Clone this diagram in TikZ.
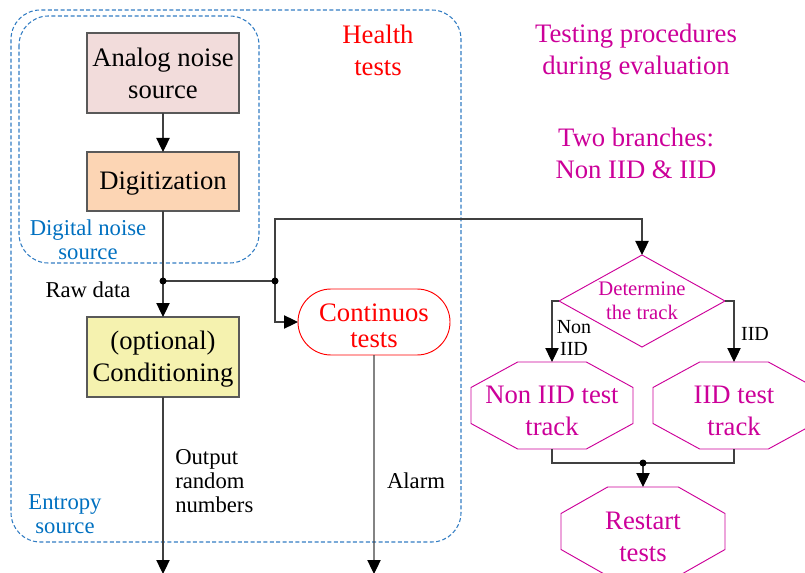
\documentclass[tikz,border=0pt]{standalone}
\usepackage{fontspec}
\setmainfont{Liberation Serif}
\usepackage{tikz}
\usetikzlibrary{arrows.meta}
\usetikzlibrary{shapes.geometric,shapes.misc,positioning,calc}
\definecolor{boxgray}{RGB}{89,89,89}
\definecolor{wiregray}{RGB}{64,64,64}
\definecolor{analogfill}{RGB}{242,220,219}
\definecolor{digitfill}{RGB}{252,213,180}
\definecolor{condfill}{RGB}{245,242,175}
\definecolor{srcblue}{RGB}{0,112,192}
\definecolor{dashblue}{RGB}{50,125,195}
\definecolor{evalmag}{RGB}{204,0,153}
% octagon outline round a (rectangular) node
\newcommand{\drawoct}[1]{%
	\draw[octline] ($(#1.north west)+(35pt,0)$) -- ($(#1.north east)+(-35pt,0)$)
		-- ($(#1.east)+(0,13.5pt)$) -- ($(#1.east)+(0,-13.5pt)$)
		-- ($(#1.south east)+(-35pt,0)$) -- ($(#1.south west)+(35pt,0)$)
		-- ($(#1.west)+(0,-13.5pt)$) -- ($(#1.west)+(0,13.5pt)$) -- cycle;}

\begin{document}
\begin{tikzpicture}[x=0.75pt, y=-0.75pt,
		>={Triangle[length=10.5pt,width=10pt,color=black]},
		wire/.style={draw=wiregray, line width=0.8pt},
		arr/.style={wire, ->},
		block/.style={draw=boxgray, line width=0.8pt, inner sep=0pt, outer sep=0pt, minimum width=114pt, align=center, font=\fontsize{20}{24}\selectfont},
		octbox/.style={text=evalmag, inner sep=0pt, outer sep=0pt, minimum width=121.5pt, minimum height=65.25pt, text height=45pt, align=center, font=\fontsize{20}{24}\selectfont},
		octline/.style={draw=evalmag, line width=0.7pt},
		lbl/.style={align=center, inner sep=0pt, font=\fontsize{17}{18}\selectfont},
		frame/.style={draw=dashblue, line width=0.8pt, dash pattern=on 3pt off 1.8pt, rounded corners=22pt}]
		\clip (0,0) rectangle (805,573);
		% dashed groups
		\draw[frame] (11,10) rectangle (461,542);
		\draw[frame] (19,16) rectangle (259,263);
		% entropy source chain
		\node[block, fill=analogfill, minimum height=60pt] (analog) at (163,73) {Analog noise\\source};
		\node[block, fill=digitfill, minimum height=44.25pt, text height=16pt] (digit) at (163,181.5) {Digitization};
		\node[block, fill=condfill, minimum height=60pt, text height=41pt] (cond) at (163,357) {(optional)\\Conditioning};
		\node[rounded rectangle, draw=red, text=red, line width=0.7pt, inner sep=0pt, outer sep=0pt, minimum width=114pt, minimum height=49.5pt, text height=39pt, align=center, font=\fontsize{20}{20}\selectfont] (cont) at (374,322) {Continuos\\tests};
		\coordinate (rawdot) at (163,281);
		\coordinate (tapdot) at (275,281);
		\coordinate (bend) at (275,219);
		\coordinate (outend) at (163,574);
		\coordinate (alarmend) at (374,574);
		% evaluation branch
		\node[diamond, aspect=1.8, draw=evalmag, text=evalmag, line width=0.7pt, inner sep=0pt, outer sep=0pt, minimum width=124.5pt, minimum height=69pt, align=center, font=\fontsize{15.5}{18}\selectfont] (track) at (642,301) {Determine\\the track};
		\node[octbox] (noniid) at (552,405.5) {Non IID test\\track};
		\node[octbox] (iid) at (734,405.5) {IID test\\track};
		\node[octbox, minimum width=123pt, minimum height=66.75pt] (restart) at (643,531.5) {Restart\\tests};
		\drawoct{noniid}
		\drawoct{iid}
		\drawoct{restart}
		\coordinate (mergedot) at (643,463);
		% connectors
		\draw[arr] (analog) -- (digit);
		\draw[wire] (digit) -- (rawdot);
		\draw[arr] (rawdot) -- (cond);
		\draw[wire] (rawdot) -- (tapdot);
		\draw[arr] (tapdot) |- (cont.west);
		\draw[arr] (tapdot) -- (bend) -| (track.north);
		\draw[arr] (cond) -- (outend);
		\draw[arr] (cont) -- (alarmend);
		\draw[arr] (track.west) -| (noniid.north);
		\draw[arr] (track.east) -| (iid.north);
		\draw[wire] (noniid.south) |- (mergedot) -| (iid.south);
		\draw[arr] (mergedot) -- (restart);
		\foreach \d in {rawdot,tapdot,mergedot}
			\fill (\d) circle (3.5);
		% labels
		\node[lbl] (rawlbl) at (88,290) {Raw data};
		\node[lbl, align=left, anchor=west] (outlbl) at (175,481) {Output\\random\\numbers};
		\node[lbl] (alarmlbl) at (416,481) {Alarm};
		\node[lbl, text=srcblue] (digsrc) at (88,240) {Digital noise\\source};
		\node[lbl, text=srcblue] (entsrc) at (65,514) {Entropy\\source};
		\node[align=center, text=red, font=\fontsize{20}{24}\selectfont] (health) at (378,50) {Health\\tests};
		\node[align=center, text=evalmag, font=\fontsize{20}{24}\selectfont] (evaltitle) at (636,52) {Testing procedures\\during evaluation};
		\node[align=center, text=evalmag, font=\fontsize{20}{24}\selectfont] (branches) at (636,153) {Two branches:\\Non IID \& IID};
		\node[align=center, inner sep=0pt, font=\fontsize{15}{16.5}\selectfont] (nonlbl) at (574,338) {Non\\IID};
		\node[inner sep=0pt, font=\fontsize{15}{16.5}\selectfont] (iidlbl) at (755,334) {IID};
\end{tikzpicture}
\end{document}
